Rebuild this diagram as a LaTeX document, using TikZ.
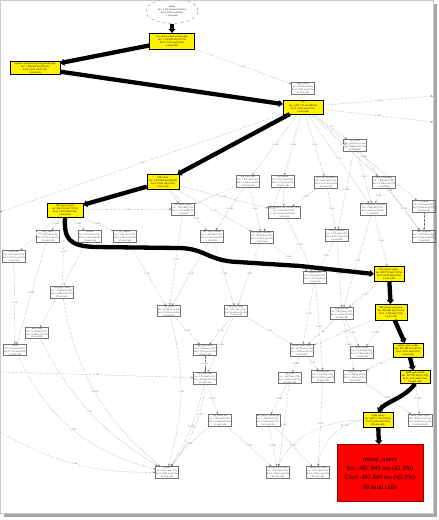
\documentclass[tikz,border=0pt]{standalone}
\usepackage{fontspec}
\setmainfont{Liberation Serif}
\usepackage{tikz}
\usetikzlibrary{shapes,arrows.meta,positioning}

\newcommand{\cg}[4]{#1\\Inc: #2\\Excl: #3\\#4 total calls}

\tikzset{
  hot/.style={rectangle, draw, line width=0.3pt, fill=yellow, inner sep=0.6pt, align=center, font=\fontsize{2.6}{3.2}\selectfont},
  fn/.style={rectangle, draw=black!55, line width=0.3pt, inner sep=0.6pt, align=center, text=black!75, font=\fontsize{2.4}{2.9}\selectfont},
  call/.style={densely dotted, black!55, line width=0.35pt, -{Stealth[length=2.2pt,width=1.8pt]}},
  crit/.style={line width=4.3pt, line join=round, -{Triangle[length=4pt,width=7pt]}},
  elabel/.style={font=\fontsize{2.4}{2.9}\selectfont, text=black!60, inner sep=0.4pt, fill=white},
}

\begin{document}
\begin{tikzpicture}[x=1pt,y=-1pt]
\useasboundingbox (0,0) rectangle (439,520);
% frame of the screenshot
\fill[black!35] (433,4) rectangle (437,517);
\fill[black!35] (4,513) rectangle (437,517);
\draw[black!20, line width=0.4pt] (0.2,0.2) rectangle (433,513);

% critical path
\node[ellipse, draw=black!55, dashed, line width=0.3pt, minimum width=52, minimum height=25, inner sep=0pt, align=center, font=\fontsize{2.4}{2.9}\selectfont] (root) at (172,11) {\cg{main()}{1,153.312 ms (100.0\%)}{0.087 ms (0.0\%)}{1}};
\node[hot, minimum width=45, minimum height=16] (hot1) at (172,41) {\cg{run\_init::wordpress/index.php}{1,150.204 ms (99.7\%)}{0.412 ms (0.0\%)}{1}};
\node[hot, minimum width=50, minimum height=13] (hot2) at (35,68) {\cg{require::wordpress/wp-blog-header.php}{1,148.930 ms (99.6\%)}{0.601 ms (0.1\%)}{1}};
\node[hot, minimum width=40, minimum height=14] (hot3) at (303,107) {\cg{wp}{1,021.517 ms (88.6\%)}{0.023 ms (0.0\%)}{1}};
\node[hot, minimum width=32, minimum height=15] (hot4) at (163,182) {\cg{WP::main}{1,019.806 ms (88.4\%)}{0.041 ms (0.0\%)}{1}};
\node[hot, minimum width=36, minimum height=14] (hot5) at (65,210) {\cg{WP::query\_posts}{842.115 ms (73.0\%)}{0.012 ms (0.0\%)}{1}};
\node[hot, minimum width=30, minimum height=15] (hot6) at (389,274) {\cg{WP\_Query::query}{839.770 ms (72.8\%)}{0.034 ms (0.0\%)}{1}};
\node[hot, minimum width=32, minimum height=16] (hot7) at (391,312) {\cg{WP\_Query::get\_posts}{836.402 ms (72.5\%)}{1.208 ms (0.1\%)}{1}};
\node[hot, minimum width=30, minimum height=14] (hot8) at (408,350) {\cg{update\_post\_caches}{631.480 ms (54.8\%)}{0.512 ms (0.0\%)}{1}};
\node[hot, minimum width=30, minimum height=13] (hot9) at (415,377) {\cg{wpdb::get\_results}{612.933 ms (53.1\%)}{3.215 ms (0.3\%)}{12}};
\node[hot, minimum width=30, minimum height=15] (hot10) at (378,420) {\cg{wpdb::query}{600.271 ms (52.0\%)}{8.904 ms (0.8\%)}{80}};
\node[rectangle, draw=red!60!black, line width=0.3pt, fill=red, minimum width=86, minimum height=57, align=center, text=black, font=\fontsize{6.6}{9.3}\selectfont] (mysql) at (380,473) {\cg{mysql\_query}{487.849 ms (42.3\%)}{487.849 ms (42.3\%)}{80}};

% other functions
\node[fn] (f1) at (303,88) {\cg{apply\_filters}{4.118 ms (0.4\%)}{1.902 ms (0.2\%)}{41}};
\node[fn] (f2) at (355,145) {\cg{do\_action}{12.630 ms (1.1\%)}{0.884 ms (0.1\%)}{9}};
\node[fn] (f3) at (248,181) {\cg{wp\_cache\_get}{3.472 ms (0.3\%)}{1.906 ms (0.2\%)}{132}};
\node[fn] (f4) at (283,181) {\cg{get\_option}{9.215 ms (0.8\%)}{2.774 ms (0.2\%)}{58}};
\node[fn] (f5) at (326,182) {\cg{wp\_load\_alloptions}{2.061 ms (0.2\%)}{0.317 ms (0.0\%)}{22}};
\node[fn] (f6) at (384,182) {\cg{load\_textdomain}{6.543 ms (0.6\%)}{0.205 ms (0.0\%)}{2}};
\node[fn] (f7) at (424,206) {\cg{is\_admin}{0.094 ms (0.0\%)}{0.094 ms (0.0\%)}{14}};
\node[fn] (f8) at (183,209) {\cg{WP::parse\_request}{7.802 ms (0.7\%)}{1.115 ms (0.1\%)}{1}};
\node[fn] (f9) at (284,212) {\cg{WP\_Rewrite::wp\_rewrite\_rules}{5.336 ms (0.5\%)}{0.043 ms (0.0\%)}{1}};
\node[fn] (f10) at (373,209) {\cg{wp\_templating\_constants}{0.988 ms (0.1\%)}{0.231 ms (0.0\%)}{1}};
\node[fn] (f11) at (212,236) {\cg{WP::send\_headers}{1.407 ms (0.1\%)}{0.362 ms (0.0\%)}{1}};
\node[fn] (f12) at (262,237) {\cg{get\_query\_template}{2.218 ms (0.2\%)}{0.119 ms (0.0\%)}{3}};
\node[fn] (f13) at (337,235) {\cg{locate\_template}{1.935 ms (0.2\%)}{0.507 ms (0.0\%)}{4}};
\node[fn] (f14) at (424,236) {\cg{load\_template}{3.120 ms (0.3\%)}{0.066 ms (0.0\%)}{2}};
\node[fn] (f15) at (48,236) {\cg{preg\_match}{0.612 ms (0.1\%)}{0.612 ms (0.1\%)}{36}};
\node[fn] (f16) at (90,236) {\cg{explode}{0.254 ms (0.0\%)}{0.254 ms (0.0\%)}{19}};
\node[fn] (f17) at (125,236) {\cg{str\_replace}{0.481 ms (0.0\%)}{0.481 ms (0.0\%)}{27}};
\node[fn] (f18) at (14,256) {\cg{urldecode}{0.037 ms (0.0\%)}{0.037 ms (0.0\%)}{3}};
\node[fn] (f19) at (62,292) {\cg{WP::parse\_query}{1.744 ms (0.2\%)}{0.390 ms (0.0\%)}{1}};
\node[fn] (f20) at (169,311) {\cg{get\_posts}{14.306 ms (1.2\%)}{0.228 ms (0.0\%)}{2}};
\node[fn] (f21) at (236,311) {\cg{wp\_parse\_args}{0.915 ms (0.1\%)}{0.402 ms (0.0\%)}{17}};
\node[fn] (f22) at (315,277) {\cg{sanitize\_title}{1.283 ms (0.1\%)}{0.177 ms (0.0\%)}{6}};
\node[fn] (f23) at (342,313) {\cg{wpdb::prepare}{2.870 ms (0.2\%)}{1.046 ms (0.1\%)}{25}};
\node[fn] (f24) at (205,350) {\cg{get\_post\_meta}{5.109 ms (0.4\%)}{0.315 ms (0.0\%)}{10}};
\node[fn] (f25) at (302,350) {\cg{update\_meta\_cache}{38.724 ms (3.4\%)}{0.850 ms (0.1\%)}{2}};
\node[fn] (f26) at (362,352) {\cg{wpdb::escape}{0.339 ms (0.0\%)}{0.148 ms (0.0\%)}{11}};
\node[fn] (f27) at (37,333) {\cg{array\_map}{0.706 ms (0.1\%)}{0.298 ms (0.0\%)}{8}};
\node[fn] (f28) at (15,350) {\cg{count}{0.112 ms (0.0\%)}{0.112 ms (0.0\%)}{31}};
\node[fn] (f29) at (205,378) {\cg{wp\_cache\_add}{1.852 ms (0.2\%)}{0.934 ms (0.1\%)}{45}};
\node[fn] (f30) at (290,378) {\cg{get\_post}{4.667 ms (0.4\%)}{0.821 ms (0.1\%)}{20}};
\node[fn] (f31) at (323,376) {\cg{sanitize\_post}{2.103 ms (0.2\%)}{0.560 ms (0.0\%)}{20}};
\node[fn] (f32) at (355,376) {\cg{wpdb::get\_var}{21.480 ms (1.9\%)}{0.126 ms (0.0\%)}{4}};
\node[fn] (f33) at (220,420) {\cg{wp\_cache\_set}{0.620 ms (0.1\%)}{0.338 ms (0.0\%)}{12}};
\node[fn] (f34) at (268,420) {\cg{WP\_Object\_Cache::get}{1.566 ms (0.1\%)}{1.566 ms (0.1\%)}{132}};
\node[fn] (f35) at (420,420) {\cg{mysql\_fetch\_object}{35.902 ms (3.1\%)}{35.902 ms (3.1\%)}{1,204}};
\node[fn] (f36) at (167,472) {\cg{is\_array}{0.903 ms (0.1\%)}{0.903 ms (0.1\%)}{87}};
\node[fn] (f37) at (278,472) {\cg{mysql\_num\_fields}{0.428 ms (0.0\%)}{0.428 ms (0.0\%)}{66}};
\node[fn] (f38) at (318,472) {\cg{mysql\_free\_result}{0.972 ms (0.1\%)}{0.972 ms (0.1\%)}{80}};

\coordinate (offW) at (0,212);
\coordinate (offW2) at (0,372);
\coordinate (offW3) at (0,432);
\coordinate (offE1) at (433,96);
\coordinate (offE2) at (433,122);

% calls
\foreach \a/\b/\c in {hot1/f1/1 call, hot3/f2/1 call, hot3/f3/6 calls, hot3/f4/5 calls, hot3/f5/1 call, hot3/f6/2 calls, hot3/f10/1 call, hot3/f7/3 calls,
    hot3/offE1/1 call, hot3/offE2/2 calls, hot3/offW/1 call,
    hot4/f9/1 call, hot4/f12/1 call,
    hot5/f15/4 calls, hot5/f16/2 calls, hot5/f17/3 calls, hot5/f18/1 call, hot5/f19/1 call, hot5/f8/1 call,
    f2/f10/1 call, f2/f13/2 calls, f2/f14/1 call, f3/f11/2 calls, f3/f12/1 call, f4/f12/2 calls,
    f5/f9/1 call, f5/f13/1 call, f6/f14/2 calls, f6/f10/1 call,
    f8/f20/1 call, f11/f21/3 calls, f11/f20/1 call, f9/f22/2 calls, f12/f21/1 call, f12/f22/1 call,
    f13/f22/1 call, f13/f23/2 calls, f10/f23/1 call, f10/hot6/1 call,
    f16/f27/1 call, f15/f28/2 calls, f18/f28/1 call, f17/f20/1 call,
    f20/f24/2 calls, f21/f24/1 call, f21/f29/4 calls, f21/f25/1 call, f22/f25/1 call, f22/f31/1 call,
    f23/f26/3 calls, f23/f32/2 calls, f23/f25/1 call, f24/f29/2 calls, f25/f30/2 calls, f25/f31/1 call,
    f29/f33/3 calls, f30/f34/4 calls, f30/f37/1 call, f31/f38/1 call, f32/f35/4 calls,
    f33/f37/1 call, f34/f37/2 calls, f34/f38/1 call,
    hot6/f23/1 call, hot7/f26/2 calls, hot7/f25/1 call, hot8/f32/1 call, hot9/f35/12 calls,
    offW2/f29/1 call}
  \draw[call] (\a) -- node[elabel]{\c} (\b);
\foreach \a/\b/\c/\d in {f19/f36/2 calls/-20, f27/f36/1 call/-15, f28/f36/3 calls/-25, f20/f36/1 call/15,
    f29/f36/2 calls/10, f33/f36/1 call/-10, offW3/f36/1 call/-15, f24/f36/1 call/20}
  \draw[call] (\a) to[bend left=\d] node[elabel]{\c} (\b);
% short calls
\draw[call] (hot4) -- node[elabel, pos=0.72]{1 call} (f11);
\draw[call] (hot4) -- (f8);
\draw[call] (f4) -- (f9);
\draw[call] (f3) -- (f8);
\draw[call] (f7) -- (f14);
\draw[call] (hot10.west) .. controls (335,424) and (322,445) .. node[elabel, pos=0.25]{80 calls} (f38.north);
\draw[call] (hot10.west) .. controls (320,420) and (290,440) .. (f37.north);

\draw[crit] (root) -- (hot1);
\draw[crit] (hot1) -- (hot2);
\draw[crit] (hot2) -- (hot3);
\draw[crit] (hot3) -- (hot4);
\draw[crit] (hot4) -- (hot5);
\draw[crit] (hot5.south) .. controls (64,238) and (68,246) .. (95,247) -- (178,248) .. controls (205,248) and (208,261) .. (238,262) -- (300,266) -- (hot6.west);
\draw[crit] (hot6) -- (hot7);
\draw[crit] (hot7) -- (hot8);
\draw[crit] (hot8) -- (hot9);
\draw[crit] (hot9.south) .. controls (405,398) and (385,402) .. (hot10.north);
\draw[crit] (hot10) -- (mysql);
\end{tikzpicture}
\end{document}
